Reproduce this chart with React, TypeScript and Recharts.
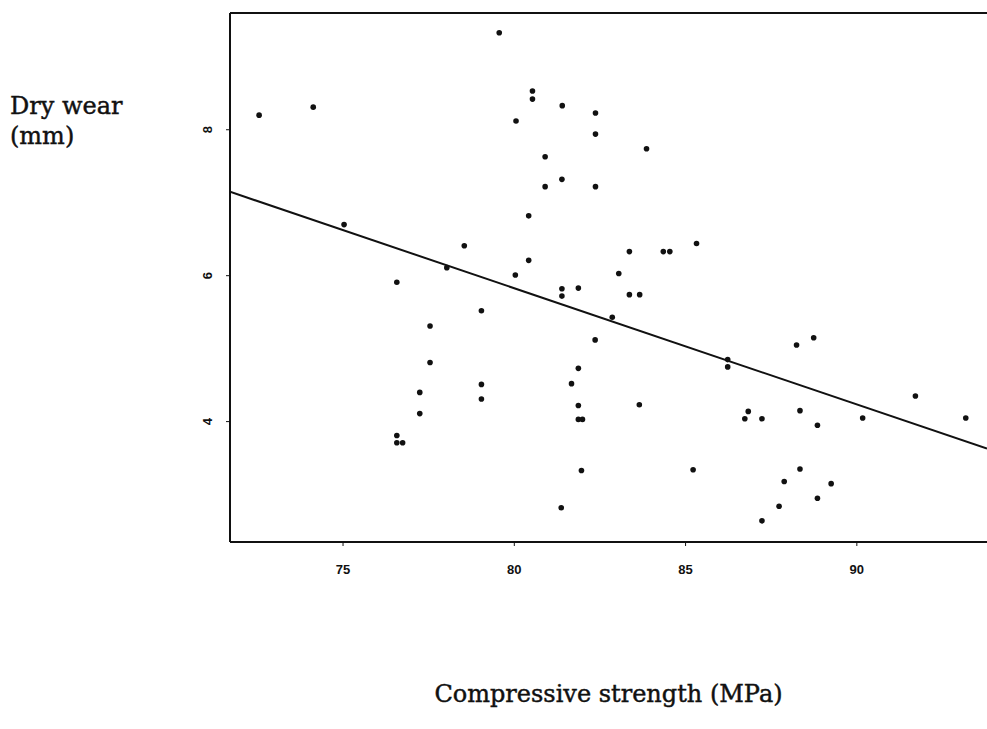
import { ScatterChart, Scatter, XAxis, YAxis, ReferenceLine } from 'recharts';

// compressive strength (MPa) and dry wear (mm)
const strength = [
  72.55, 74.13, 79.56, 80.53, 80.53, 80.05, 81.4, 82.37, 82.37, 80.9,
  81.39, 80.9, 82.37, 80.42, 75.03, 78.54, 80.42, 78.03, 80.03, 83.86,
  85.32, 83.36, 84.35, 84.54, 83.05, 76.57, 81.39, 81.39, 81.87, 79.04,
  77.54, 82.36, 77.54, 81.87, 81.67, 79.04, 77.24, 79.04, 81.87, 77.24,
  81.87, 81.99, 76.57, 76.57, 76.74, 81.96, 81.37, 83.36, 83.66, 82.86,
  86.23, 86.23, 83.65, 88.24, 88.74, 91.71, 86.83, 86.73, 87.23, 88.34,
  90.17, 88.85, 93.18, 85.22, 88.34, 87.88, 89.25, 88.85, 87.73, 87.23,
];
const wear = [
  8.2, 8.31, 9.33, 8.53, 8.42, 8.12, 8.33, 8.23, 7.94, 7.63,
  7.32, 7.22, 7.22, 6.82, 6.7, 6.41, 6.21, 6.11, 6.01, 7.74,
  6.44, 6.33, 6.33, 6.33, 6.03, 5.91, 5.82, 5.72, 5.83, 5.52,
  5.31, 5.12, 4.81, 4.73, 4.52, 4.51, 4.4, 4.31, 4.22, 4.11,
  4.03, 4.03, 3.81, 3.71, 3.71, 3.33, 2.82, 5.74, 5.74, 5.43,
  4.85, 4.75, 4.23, 5.05, 5.15, 4.35, 4.14, 4.04, 4.04, 4.15,
  4.05, 3.95, 4.05, 3.34, 3.35, 3.18, 3.15, 2.95, 2.84, 2.64,
];
// least squares line, endpoints at the plot edges
const fitX = [71.7, 93.8];
const fitY = [7.15, 3.63];

const xTicks = [75, 80, 85, 90];
const yTicks = [4, 6, 8];

const points = strength.map((x, i) => ({ x, y: wear[i] }));
const fitLine = fitX.map((x, i) => ({ x, y: fitY[i] }));

const titleStyle = {
  position: 'absolute' as const,
  fontFamily: '"DejaVu Serif", "Liberation Serif", serif',
  fontSize: 24,
  color: '#111',
  WebkitTextStroke: '0.45px #111',
};

const Dot = (props: any) => (
  <circle cx={props.cx} cy={props.cy} r={2.8} fill="#111" />
);

const XTick = ({ x, y, payload }: any) => (
  <text
    x={x}
    y={y + 26}
    textAnchor="middle"
    fontFamily="Liberation Sans, sans-serif"
    fontWeight="bold"
    fontSize={13}
    fill="#111"
  >
    {payload.value}
  </text>
);

const YTick = ({ x, y, payload }: any) => (
  <text
    x={0}
    y={0}
    transform={`translate(${x - 12},${y}) rotate(-90)`}
    textAnchor="middle"
    fontFamily="Liberation Sans, sans-serif"
    fontWeight="bold"
    fontSize={13}
    fill="#111"
  >
    {payload.value}
  </text>
);

export default function App() {
  return (
    <div
      style={{
        position: 'absolute',
        left: 0,
        top: 0,
        width: 987,
        height: 729,
        background: '#fff',
        overflow: 'hidden',
      }}
    >
      <ScatterChart
        width={987}
        height={729}
        margin={{ top: 13, right: 0, bottom: 157, left: 0 }}
      >
        <XAxis
          type="number"
          dataKey="x"
          domain={[71.7, 93.8]}
          ticks={xTicks}
          height={30}
          axisLine={{ stroke: '#111', strokeWidth: 2 }}
          tickLine={{ stroke: '#111' }}
          tickSize={4}
          tick={<XTick />}
          allowDataOverflow
        />
        <YAxis
          type="number"
          dataKey="y"
          domain={[2.35, 9.6]}
          ticks={yTicks}
          width={230}
          axisLine={{ stroke: '#111', strokeWidth: 2 }}
          tickLine={{ stroke: '#111' }}
          tickSize={4}
          tick={<YTick />}
          allowDataOverflow
        />
        <ReferenceLine y={9.6} stroke="#111" strokeWidth={2} />
        <Scatter
          data={fitLine}
          line={{ stroke: '#111', strokeWidth: 2 }}
          shape={() => <g />}
          isAnimationActive={false}
        />
        <Scatter data={points} shape={<Dot />} isAnimationActive={false} />
      </ScatterChart>
      <div style={{ ...titleStyle, left: 10, top: 91, lineHeight: '30px' }}>
        Dry wear
        <br />
        (mm)
      </div>
      <div
        style={{
          ...titleStyle,
          left: 0,
          width: 1217,
          top: 680,
          lineHeight: '28px',
          textAlign: 'center',
        }}
      >
        Compressive strength (MPa)
      </div>
    </div>
  );
}
